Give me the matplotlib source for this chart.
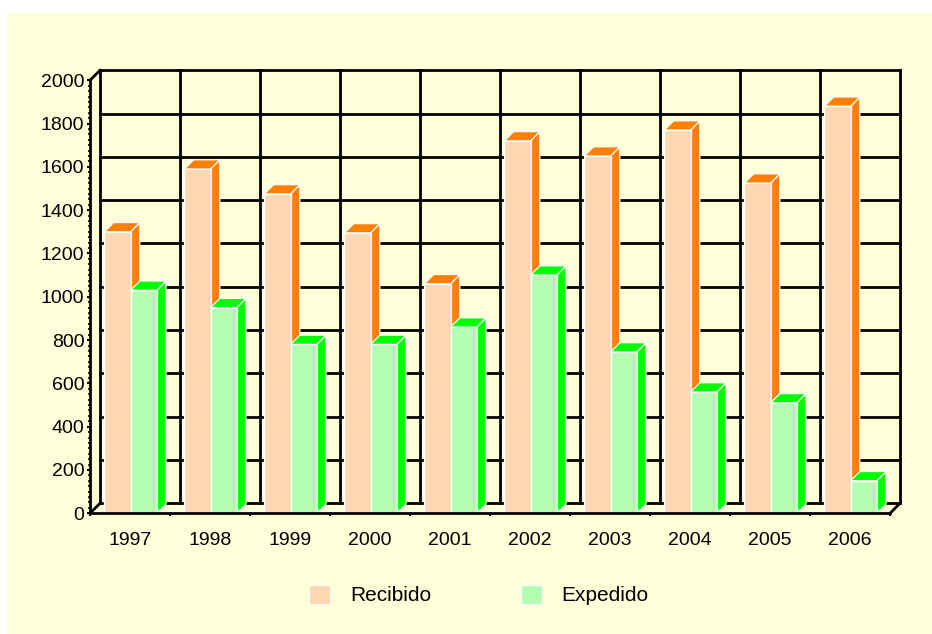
import matplotlib
matplotlib.use("Agg")
import matplotlib.pyplot as plt
from matplotlib.patches import Polygon, Rectangle, Patch
from matplotlib.ticker import MultipleLocator, FixedLocator

years = ['1997', '1998', '1999', '2000', '2001', '2002', '2003', '2004', '2005', '2006']
recibido = [1300, 1590, 1475, 1295, 1060, 1720, 1650, 1770, 1525, 1880]
expedido = [1030, 950, 780, 780, 860, 1100, 745, 560, 510, 150]
y_ticks = [0, 200, 400, 600, 800, 1000, 1200, 1400, 1600, 1800, 2000]
series_names = ['Recibido', 'Expedido']

BG = '#FFFFDA'
REC_FRONT, REC_SIDE = '#FFD7B2', '#FF8000'
EXP_FRONT, EXP_SIDE = '#B4FFB4', '#00FF00'

plt.rcParams['font.family'] = ['Liberation Sans', 'DejaVu Sans']

W, H = 932, 634
fig = plt.figure(figsize=(W / 100, H / 100), dpi=100, facecolor='white')
fig.patches.append(Rectangle((7 / W, 0), 925 / W, 621 / H, transform=fig.transFigure,
                             facecolor=BG, edgecolor='none', zorder=-5))

ax = fig.add_axes([90 / W, 120.7 / H, 800 / W, 433.0 / H])
ax.set_zorder(2)
ax.set_xlim(-0.5, len(years) - 0.5)
ax.set_ylim(0, 2000)
ax.patch.set_visible(False)
for s in ax.spines.values():
    s.set_visible(False)

bbox = ax.get_window_extent()
ppx = bbox.width / (len(years))
ppy = bbox.height / 2000.0
# wall depth (10 px) and bar depth (9 px) in data units
wdx, wdy = 10 / ppx, 10 / ppy
bdx, bdy = 9.3 / ppx, 9.3 / ppy

x0, x1 = -0.5, len(years) - 0.5
K = dict(color='black', lw=2.0, clip_on=False, solid_capstyle='projecting')

# back wall grid
for v in y_ticks:
    ax.plot([x0 + wdx, x1 + wdx], [v + wdy, v + wdy], zorder=1, **K)
for i in range(len(years) + 1):
    xb = x0 + i
    ax.plot([xb + wdx, xb + wdx], [0 + wdy, 2000 + wdy], zorder=1, **K)

# bars with 3D faces
bw = 0.327
for i in range(len(years)):
    for val, left, fc, sc in [(recibido[i], i - 0.32, REC_FRONT, REC_SIDE),
                              (expedido[i], i + 0.007, EXP_FRONT, EXP_SIDE)]:
        r = left + bw
        side = Polygon([(r, 0), (r + bdx, bdy), (r + bdx, val + bdy), (r, val)],
                       closed=True, facecolor=sc, edgecolor='white', lw=0.9, zorder=3, clip_on=False)
        top = Polygon([(left, val), (left + bdx, val + bdy), (r + bdx, val + bdy), (r, val)],
                      closed=True, facecolor=sc, edgecolor='white', lw=0.9, zorder=3, clip_on=False)
        ax.add_patch(side)
        ax.add_patch(top)
        ax.bar(left, val, width=bw, align='edge', color=fc, edgecolor='white',
               linewidth=0.9, zorder=3, clip_on=False)

# front frame lines
ax.plot([x0, x1], [0, 0], zorder=5, **K)
ax.plot([x0, x0], [0, 2000], zorder=5, **K)
ax.plot([x0, x0 + wdx], [0, wdy], zorder=5, **K)
ax.plot([x1, x1 + wdx], [0, wdy], zorder=5, **K)
ax.plot([x0, x0 + wdx], [2000, 2000 + wdy], zorder=5, **K)

# ticks
ax.yaxis.set_major_locator(FixedLocator(y_ticks))
ax.yaxis.set_minor_locator(MultipleLocator(25))
ax.tick_params(axis='y', which='major', length=2.5, width=1.5, pad=1.5, labelsize=14, colors='black')
ax.tick_params(axis='y', which='minor', length=1.5, width=1.2)
ax.xaxis.set_major_locator(FixedLocator([x0 + k for k in range(len(years) + 1)]))
ax.xaxis.set_major_formatter(plt.NullFormatter())
ax.set_xticks(list(range(len(years))), labels=years, minor=True)
ax.tick_params(axis='x', which='major', length=2.5, width=1.5)
ax.tick_params(axis='x', which='minor', length=0, pad=13.5, labelsize=14)

# legend
handles = [Patch(facecolor=REC_FRONT, edgecolor='white', lw=0.8),
           Patch(facecolor=EXP_FRONT, edgecolor='white', lw=0.8)]
fig.legend(handles, series_names, loc='center', bbox_to_anchor=(479 / W, 39 / H),
           ncol=2, frameon=False, fontsize=15, handlelength=1.0, handleheight=1.05,
           handletextpad=0.95, columnspacing=4.3, borderpad=0)

fig.savefig('out.png', dpi=100, facecolor='white')
